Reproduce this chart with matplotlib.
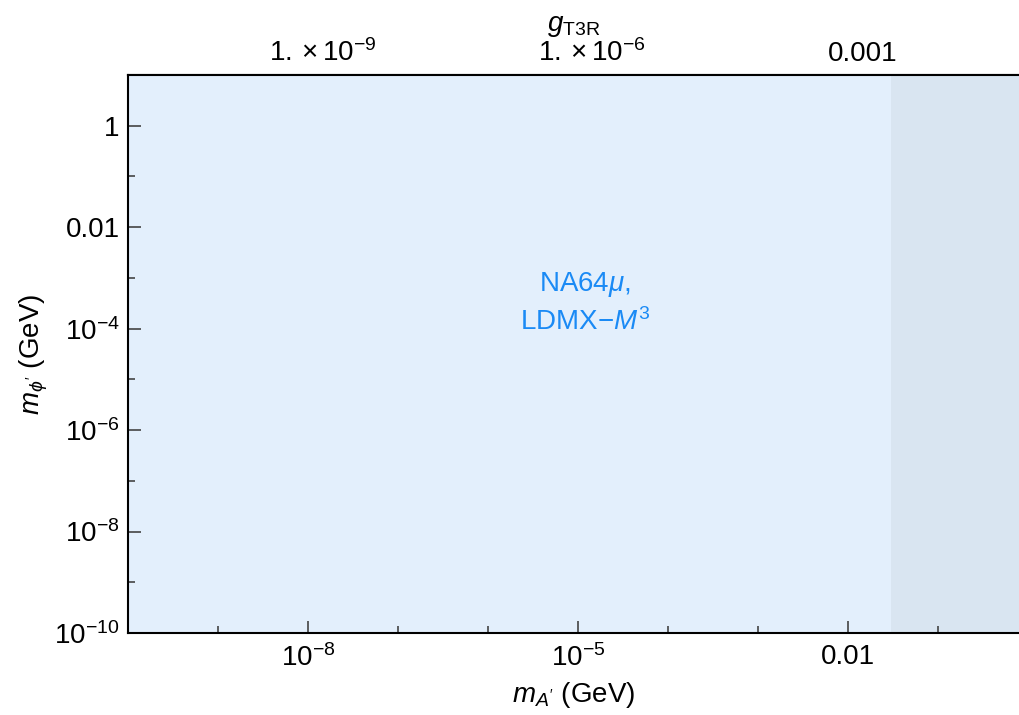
import matplotlib
matplotlib.use("Agg")
import matplotlib.pyplot as plt
import numpy as np
from matplotlib.ticker import FixedLocator, NullFormatter, FuncFormatter

plt.rcParams['font.family'] = ['Liberation Sans', 'DejaVu Sans']
plt.rcParams['mathtext.fontset'] = 'custom'
plt.rcParams['mathtext.rm'] = 'Liberation Sans'
plt.rcParams['mathtext.it'] = 'Liberation Sans:italic'
plt.rcParams['mathtext.bf'] = 'Liberation Sans:bold'

# axis ranges (GeV)
x_range = [1e-10, 0.8]
y_range = [1e-10, 10]

# NA64mu / LDMX-M^3 reach: whole plane shaded
na64_x = [1e-10, 0.8]
na64_lo = [1e-10, 1e-10]
na64_hi = [10, 10]

# darker band at large m_A'
dark_x = [0.03, 0.8]
dark_lo = [1e-10, 1e-10]
dark_hi = [10, 10]

# coupling g_T3R corresponding to m_A'
g_per_m = 0.069
g_ticks = [1e-11, 1e-10, 1e-9, 1e-8, 1e-7, 1e-6, 1e-5, 1e-4, 1e-3, 1e-2]
g_labels = {1e-9: r'$1.\times10^{-9}$', 1e-6: r'$1.\times10^{-6}$', 1e-3: '0.001'}

x_labeled = [1e-8, 1e-5, 1e-2]
x_names = [r'$10^{-8}$', r'$10^{-5}$', '0.01']
y_labeled = [1e-10, 1e-8, 1e-6, 1e-4, 1e-2, 1]
y_names = [r'$10^{-10}$', r'$10^{-8}$', r'$10^{-6}$', r'$10^{-4}$', '0.01', '1']

fs = 20

fig = plt.figure(figsize=(10.19, 7.15), dpi=100)
ax = fig.add_axes([0.1256, 0.1147, 0.8744, 0.7804])

ax.fill_between(na64_x, na64_lo, na64_hi, color='#e3effc', lw=0)
ax.fill_between(dark_x, dark_lo, dark_hi, color='#d9e5f1', lw=0)

ax.set_xscale('log')
ax.set_yscale('log')
ax.set_xlim(x_range)
ax.set_ylim(y_range)

ax.xaxis.set_major_locator(FixedLocator(x_labeled))
ax.set_xticklabels(x_names)
ax.xaxis.set_minor_locator(FixedLocator([10.0**k for k in range(-10, 0)]))
ax.xaxis.set_minor_formatter(NullFormatter())
ax.yaxis.set_major_locator(FixedLocator(y_labeled))
ax.set_yticklabels(y_names)
ax.yaxis.set_minor_locator(FixedLocator([10.0**k for k in range(-9, 2, 2)]))
ax.yaxis.set_minor_formatter(NullFormatter())

ax.tick_params(which='both', direction='in', labelsize=fs, color='#444444', width=1.2)
ax.tick_params(which='major', length=9)
ax.tick_params(which='minor', length=5)
ax.tick_params(axis='x', which='major', pad=8)
ax.tick_params(axis='y', which='major', pad=6)

for s in ['left', 'bottom', 'top']:
    ax.spines[s].set_linewidth(1.5)
ax.spines['right'].set_visible(False)

sec = ax.secondary_xaxis('top', functions=(lambda m: m * g_per_m, lambda g: g / g_per_m))
sec.xaxis.set_major_locator(FixedLocator(g_ticks))
sec.xaxis.set_major_formatter(FuncFormatter(lambda v, p: next((l for k, l in g_labels.items() if abs(v / k - 1) < 1e-6), '')))
sec.xaxis.set_minor_locator(FixedLocator([]))
sec.tick_params(direction='in', length=6, labelsize=fs, color='#444444', width=1.2, pad=6)
sec.spines['top'].set_linewidth(1.5)
sec.set_xlabel(r'$g_{\mathrm{T3R}}$', fontsize=fs, labelpad=6)

ax.set_xlabel(r"$m_{A'}$ (GeV)", fontsize=fs, labelpad=6)
ax.set_ylabel(r"$m_{\phi'}$ (GeV)", fontsize=fs, labelpad=3)

ax.text(1.2e-5, 3.2e-4, 'NA64$\\mu$,\nLDMX$-M^3$', color='#1a8af5', fontsize=fs,
        ha='center', va='center', linespacing=1.45)

fig.savefig('out.png', dpi=100)
